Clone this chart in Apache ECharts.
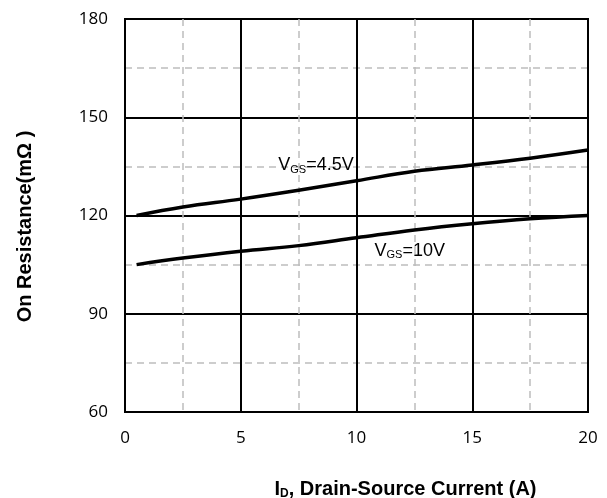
<!DOCTYPE html>
<html><head><meta charset="utf-8">
<script src="https://cdn.jsdelivr.net/npm/echarts@6/dist/echarts.min.js"></script>
<style>html,body{margin:0;padding:0;background:#fff}#c{width:607px;height:498px}</style>
</head><body><div id="c"></div>
<script>
const xTicks = [0, 5, 10, 15, 20];
const yTicks = [60, 90, 120, 150, 180];
const currentA = [0.5, 2.5, 5, 7.5, 10, 12.5, 15, 17.5, 20];
const rdsVgs45 = [120, 122.6, 125, 127.7, 130.6, 133.5, 135.4, 137.5, 140];
const rdsVgs10 = [105, 107, 109.1, 110.8, 113.2, 115.6, 117.5, 119, 120];
const labelVgs45 = {x: 8.25, y: 135.4};
const labelVgs10 = {x: 12.3, y: 109.2};

const chart = echarts.init(document.getElementById('c'));
const rich = {
  v: {fontFamily: 'Liberation Sans', fontSize: 18, color: '#000'},
  s: {fontFamily: 'Liberation Sans', fontSize: 11, color: '#000', verticalAlign: 'bottom', padding: [9,0,0,0]}
};
function mp(pt, text){
  return {symbolSize: 0, silent: true, data: [{coord: [pt.x, pt.y],
    label: {show: true, position: 'inside', formatter: text, rich: rich}}]};
}
chart.setOption({
  animation: false,
  grid: {left: 125, top: 19, right: 19, bottom: 86, containLabel: false, outerBoundsMode: 'none',
         show: true, borderColor: '#000', borderWidth: 2, backgroundColor: 'transparent'},
  xAxis: {
    type: 'value', min: xTicks[0], max: xTicks[xTicks.length-1], interval: 5,
    axisLine: {show: true, lineStyle: {color: '#000', width: 2}},
    axisTick: {show: false},
    axisLabel: {fontFamily: 'Open Sans', fontSize: 17, color: '#000', margin: 18},
    splitLine: {show: true, lineStyle: {color: '#000', width: 2}},
    minorTick: {show: false, splitNumber: 2},
    minorSplitLine: {show: true, lineStyle: {color: '#bdbdbd', width: 1.5, type: [7, 5]}},
    name: '{b|I}{sub|D}{b|, Drain-Source Current (A)}',
    nameLocation: 'middle', nameGap: 66,
    nameTextStyle: {padding: [0, 0, 0, 98], rich: {
      b: {fontFamily: 'Liberation Sans', fontWeight: 'bold', fontSize: 20, color: '#000'},
      sub: {fontFamily: 'Liberation Sans', fontWeight: 'bold', fontSize: 12, color: '#000', verticalAlign: 'bottom', padding: [10,0,0,0]}
    }}
  },
  yAxis: {
    type: 'value', min: yTicks[0], max: yTicks[yTicks.length-1], interval: 30,
    axisLine: {show: true, lineStyle: {color: '#000', width: 2}},
    axisTick: {show: false},
    axisLabel: {fontFamily: 'Open Sans', fontSize: 17, color: '#000', margin: 17},
    splitLine: {show: true, lineStyle: {color: '#000', width: 2}},
    minorTick: {show: false, splitNumber: 2},
    minorSplitLine: {show: true, lineStyle: {color: '#bdbdbd', width: 1.5, type: [7, 5]}},
    name: 'On Resistance(mΩ )', nameLocation: 'middle', nameGap: 90,
    nameTextStyle: {fontFamily: 'Liberation Sans', fontWeight: 'bold', fontSize: 20, color: '#000', padding: [0, 22, 0, 0]}
  },
  series: [
    {type: 'line', smooth: 0.4, symbol: 'none', data: currentA.map((x,i)=>[x, rdsVgs45[i]]),
     lineStyle: {color: '#000', width: 3.5}, markPoint: mp(labelVgs45, '{v|V}{s|GS}{v|=4.5V}')},
    {type: 'line', smooth: 0.4, symbol: 'none', data: currentA.map((x,i)=>[x, rdsVgs10[i]]),
     lineStyle: {color: '#000', width: 3.5}, markPoint: mp(labelVgs10, '{v|V}{s|GS}{v|=10V}')}
  ]
});
</script></body></html>
